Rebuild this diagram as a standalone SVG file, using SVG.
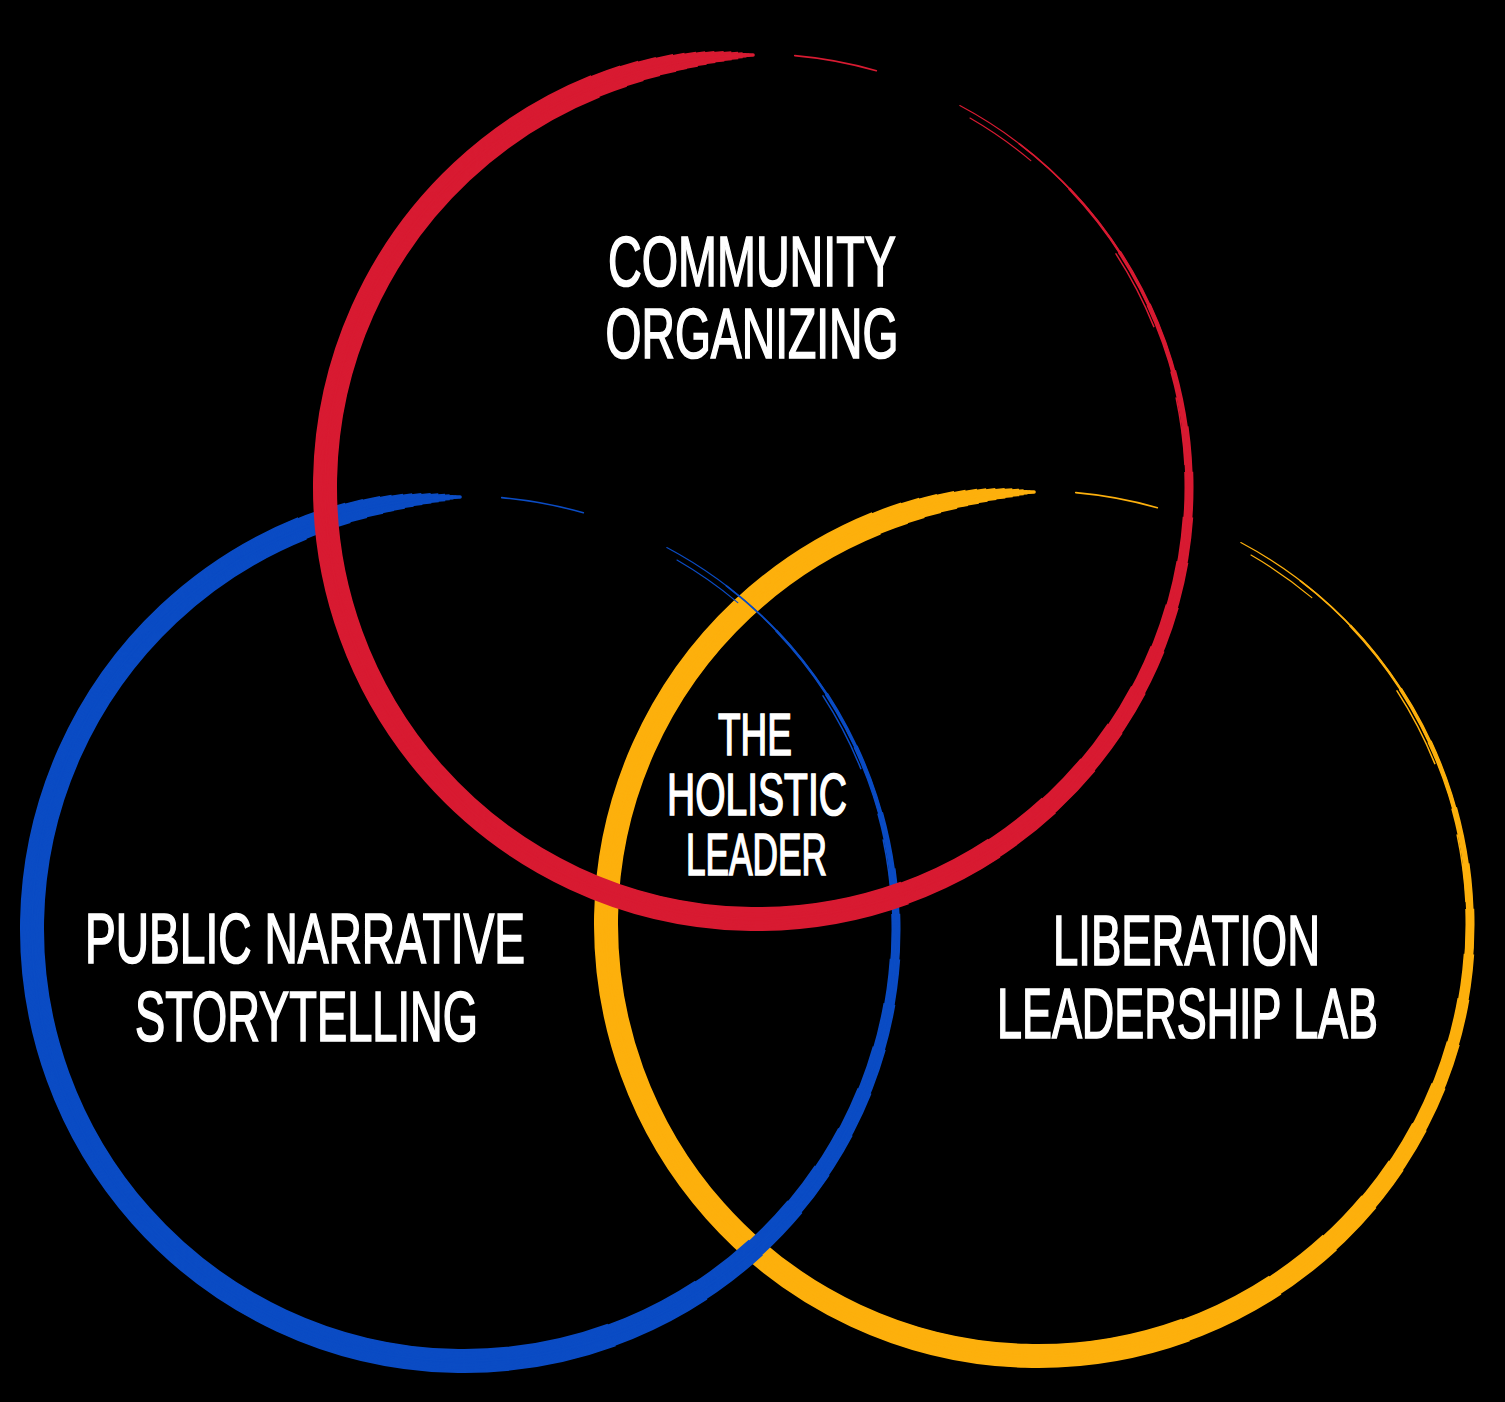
<svg xmlns="http://www.w3.org/2000/svg" xmlns:xlink="http://www.w3.org/1999/xlink" width="1505" height="1402" viewBox="0 0 1505 1402">
<style>
.lbl{font-family:"Liberation Sans",Arial,sans-serif;font-weight:normal;fill:#ffffff;stroke:#ffffff;stroke-width:1.7;stroke-linejoin:miter;text-anchor:middle}
.big{font-size:70px}
.mid{font-size:59px}
.red{stroke:#d81b32}
.blue{stroke:#0b4cc4}
.yellow{stroke:#fdb00d}
</style>
<defs>
<g id="brush" fill="none">
<circle r="432" pathLength="360" transform="rotate(70)" stroke-width="24" stroke-dasharray="178 1000"/>
<circle r="432" pathLength="360" transform="rotate(56.7)" stroke-width="22.5" stroke-dasharray="195.3 1000"/>
<circle r="432" pathLength="360" transform="rotate(47.5)" stroke-width="21" stroke-dasharray="206.9 1000"/>
<circle r="432" pathLength="360" transform="rotate(40)" stroke-width="19.5" stroke-dasharray="216.75 1000"/>
<circle r="432" pathLength="360" transform="rotate(34)" stroke-width="18" stroke-dasharray="225 1000"/>
<circle r="432" pathLength="360" transform="rotate(28)" stroke-width="16.5" stroke-dasharray="232.5 1000"/>
<circle r="432" pathLength="360" transform="rotate(22)" stroke-width="15" stroke-dasharray="240 1000"/>
<circle r="432" pathLength="360" transform="rotate(16)" stroke-width="13.5" stroke-dasharray="247.2 1000"/>
<circle r="432" pathLength="360" transform="rotate(10)" stroke-width="12" stroke-dasharray="254.4 1000"/>
<circle r="432" pathLength="360" transform="rotate(4)" stroke-width="10.5" stroke-dasharray="261.6 1000"/>
<circle r="432" pathLength="360" transform="rotate(-2)" stroke-width="9" stroke-dasharray="268.6 1000"/>
<circle r="432" pathLength="360" transform="rotate(-8)" stroke-width="7.5" stroke-dasharray="275.5 1000"/>
<circle r="432" pathLength="360" transform="rotate(-15.6)" stroke-width="6" stroke-dasharray="283.7 1000"/>
<circle r="432" pathLength="360" transform="rotate(-25)" stroke-width="4.5" stroke-dasharray="293.6 1000"/>
<circle r="432" pathLength="360" transform="rotate(-33)" stroke-width="3.5" stroke-dasharray="302 1000"/>
<circle r="432" pathLength="360" transform="rotate(-43.75)" stroke-width="2.5" stroke-dasharray="313 1000"/>
<circle r="432" pathLength="360" transform="rotate(-52.7)" stroke-width="1.8" stroke-dasharray="322 1000"/>
<circle r="432" pathLength="360" transform="rotate(-62)" stroke-width="1.2" stroke-linecap="round" stroke-dasharray="331.3 1000"/>
<circle r="432" pathLength="360" transform="rotate(266)" stroke-width="3.5" stroke-linecap="round" stroke-dasharray="3.5 1000"/>
<circle r="433" pathLength="360" transform="rotate(-85)" stroke-width="1.6" stroke-linecap="round" stroke-dasharray="11 1000"/>
<circle r="426" pathLength="360" transform="rotate(-60)" stroke-width="1.2" stroke-linecap="round" stroke-dasharray="10 1000"/>
<circle r="428" pathLength="360" transform="rotate(-33)" stroke-width="1.5" stroke-linecap="round" stroke-dasharray="11 1000"/>
<circle r="428.5" pathLength="360" transform="rotate(-12)" stroke-width="1.5" stroke-linecap="round" stroke-dasharray="9 1000"/>
</g>
</defs>
<rect width="1505" height="1402" fill="#000000"/>
<g id="liberation-leadership-lab">
<use xlink:href="#brush" href="#brush" class="yellow" transform="translate(1038,924)"/>
</g>
<g id="public-narrative-storytelling">
<use xlink:href="#brush" href="#brush" class="blue" transform="translate(464,929)"/>
</g>
<g id="community-organizing">
<use xlink:href="#brush" href="#brush" class="red" transform="translate(757,487)"/>
</g>
<g id="labels">
<text class="lbl big" x="752" y="286" textLength="288" lengthAdjust="spacingAndGlyphs">COMMUNITY</text>
<text class="lbl big" x="752" y="358" textLength="293" lengthAdjust="spacingAndGlyphs">ORGANIZING</text>
<text class="lbl big" x="305" y="963" textLength="440" lengthAdjust="spacingAndGlyphs">PUBLIC NARRATIVE</text>
<text class="lbl big" x="306.5" y="1041" textLength="343" lengthAdjust="spacingAndGlyphs">STORYTELLING</text>
<text class="lbl big" x="1186.5" y="965" textLength="267" lengthAdjust="spacingAndGlyphs">LIBERATION</text>
<text class="lbl big" x="1187.5" y="1038" textLength="381" lengthAdjust="spacingAndGlyphs">LEADERSHIP LAB</text>
</g>
<g id="holistic-leader">
<text class="lbl mid" x="755" y="755" textLength="74" lengthAdjust="spacingAndGlyphs">THE</text>
<text class="lbl mid" x="757" y="815" textLength="180" lengthAdjust="spacingAndGlyphs">HOLISTIC</text>
<text class="lbl mid" x="756.5" y="875" textLength="141" lengthAdjust="spacingAndGlyphs">LEADER</text>
</g>
</svg>
